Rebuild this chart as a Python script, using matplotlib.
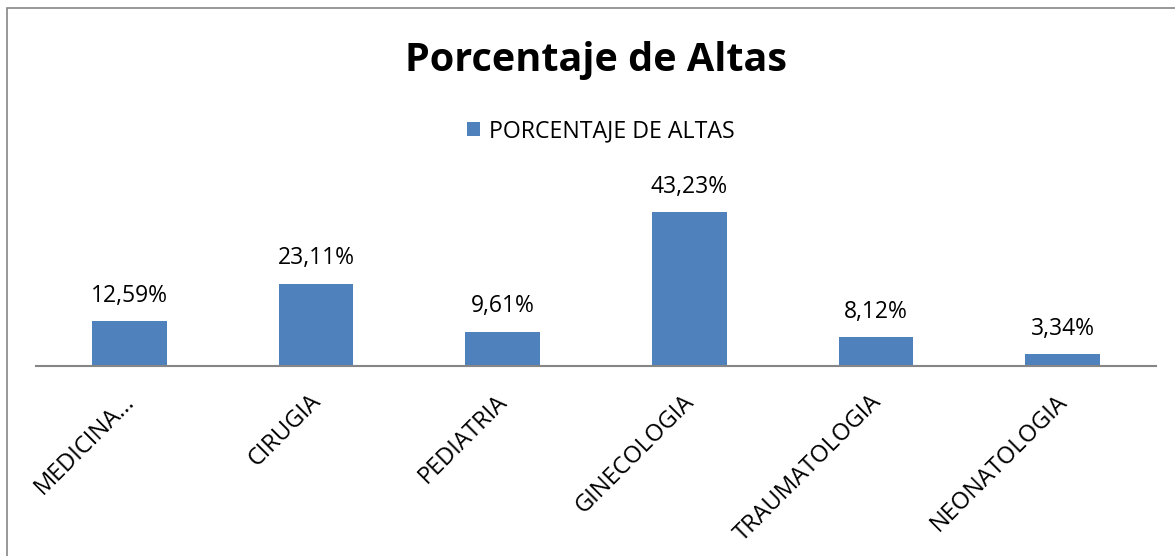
import matplotlib
matplotlib.use('Agg')
import matplotlib.pyplot as plt
import matplotlib.transforms as mtransforms
from matplotlib.patches import Rectangle

# datos del gráfico
servicios = ['MEDICINA...', 'CIRUGIA', 'PEDIATRIA', 'GINECOLOGIA', 'TRAUMATOLOGIA', 'NEONATOLOGIA']
porcentajes = [12.59, 23.11, 9.61, 43.23, 8.12, 3.34]
etiquetas = ['12,59%', '23,11%', '9,61%', '43,23%', '8,12%', '3,34%']

azul = '#4f81bd'
plt.rcParams['font.family'] = ['Open Sans', 'DejaVu Sans']

fig = plt.figure(figsize=(11.75, 5.56), dpi=100)
ax = fig.add_axes([36 / 1175, 1 - 366 / 556, 1120 / 1175, 178 / 556])

x = list(range(len(servicios)))
barras = ax.bar(x, porcentajes, width=0.4, color=azul, label='PORCENTAJE DE ALTAS')
ax.set_xlim(-0.5, len(servicios) - 0.5)
ax.set_ylim(0, 50)

# etiquetas de datos sobre las barras
for xi, v, t in zip(x, porcentajes, etiquetas):
    ax.annotate(t, (xi, v), xytext=(0, 14), textcoords='offset points',
                ha='center', va='baseline', fontsize=16.5)

ax.set_xticks(x)
ax.set_xticklabels(servicios, rotation=45, ha='right', va='top',
                   rotation_mode='anchor', fontsize=17)
ax.tick_params(axis='x', length=0, pad=17)
# correr un poco a la izquierda las etiquetas del eje x
desp = mtransforms.ScaledTranslation(-0.07, 0, fig.dpi_scale_trans)
for lbl in ax.get_xticklabels():
    lbl.set_transform(lbl.get_transform() + desp)
ax.set_yticks([])
for s in ['top', 'right', 'left']:
    ax.spines[s].set_visible(False)
ax.spines['bottom'].set_color('#868686')
ax.spines['bottom'].set_linewidth(1.5)

fig.text(596 / 1175, 1 - 61 / 556, 'Porcentaje de Altas', ha='center', va='center',
         fontsize=28.5, fontweight='bold')
fig.legend(handles=[barras], loc='center', bbox_to_anchor=(601 / 1175, 1 - 131 / 556),
           frameon=False, fontsize=16.7, handlelength=0.55, handleheight=0.55,
           handletextpad=0.4)

# marco del gráfico
fig.patches.append(Rectangle((7 / 1175, -0.1), 1.2, 1 - 8 / 556 + 0.1,
                             transform=fig.transFigure, fill=False,
                             edgecolor='#868686', linewidth=1.2))

fig.savefig('out.png', dpi=100)
